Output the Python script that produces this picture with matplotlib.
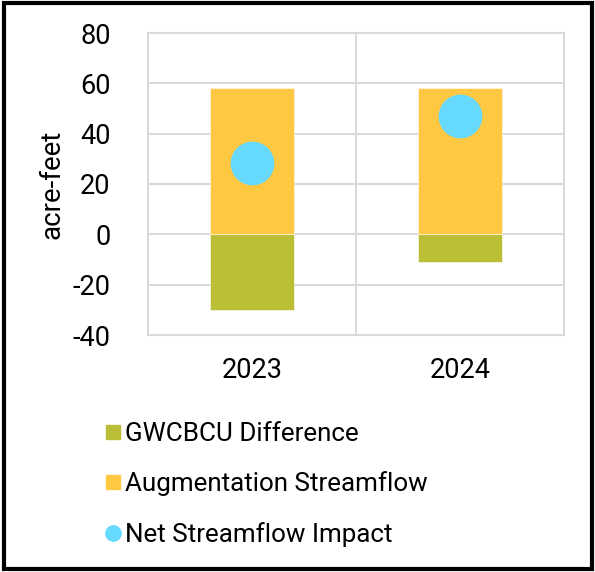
import matplotlib.pyplot as plt
from matplotlib.lines import Line2D
from matplotlib.patches import Rectangle

plt.rcParams['font.family'] = ['Roboto', 'DejaVu Sans']
plt.rcParams['axes.unicode_minus'] = False

years = ['2023', '2024']
gwcbcu_diff = [-29.9, -11.1]
aug_streamflow = [58.1, 58.3]
net_impact = [28.2, 47.2]

GREEN = '#BBBF37'
YELLOW = '#FEC843'
BLUE = '#66D9FE'
GRID = '#D9D9D9'

fig = plt.figure(figsize=(5.95, 5.72), dpi=100)
ax = fig.add_axes([148 / 595, 1 - 335 / 572, 416 / 595, 302 / 572])

x = range(len(years))
ax.bar(x, gwcbcu_diff, width=0.4, color=GREEN, edgecolor='white', linewidth=0.4, zorder=2)
ax.bar(x, aug_streamflow, width=0.4, color=YELLOW, edgecolor='white', linewidth=0.4, zorder=2)
ax.plot(x, net_impact, 'o', color=BLUE, markersize=31.5, markeredgewidth=0, zorder=3)

ax.set_xlim(-0.5, 1.5)
ax.set_ylim(-40, 80)
ax.set_yticks(range(-40, 81, 20))
ax.set_xticks(list(x))
ax.set_xticklabels(years)
ax.set_xticks([0.5], minor=True)
ax.grid(True, axis='y', color=GRID, linewidth=1.5, zorder=0)
ax.grid(True, axis='x', which='minor', color=GRID, linewidth=1.5, zorder=0)
ax.tick_params(which='both', length=0)
ax.tick_params(axis='y', labelsize=19.5, pad=27)
ax.tick_params(axis='x', labelsize=19.5, pad=16)
for s in ax.spines.values():
    s.set_color(GRID)
    s.set_linewidth(1.5)
ax.set_ylabel('acre-feet', fontsize=20, labelpad=5)

handles = [
    Line2D([], [], marker='s', linestyle='', color=GREEN, markersize=10.5),
    Line2D([], [], marker='s', linestyle='', color=YELLOW, markersize=10.5),
    Line2D([], [], marker='o', linestyle='', color=BLUE, markersize=11),
]
labels = ['GWCBCU Difference', 'Augmentation Streamflow', 'Net Streamflow Impact']
fig.legend(handles, labels, loc='upper left', bbox_to_anchor=(90 / 595, 1 - 409 / 572),
           frameon=False, fontsize=18.7, handlelength=0.8, handletextpad=0.05,
           labelspacing=0.98, borderpad=0)

fig.patches.append(Rectangle((4 / 595, 3 / 572), 588 / 595, 566 / 572, transform=fig.transFigure,
                             fill=False, edgecolor='black', linewidth=3))

fig.savefig('out.png', dpi=100)
